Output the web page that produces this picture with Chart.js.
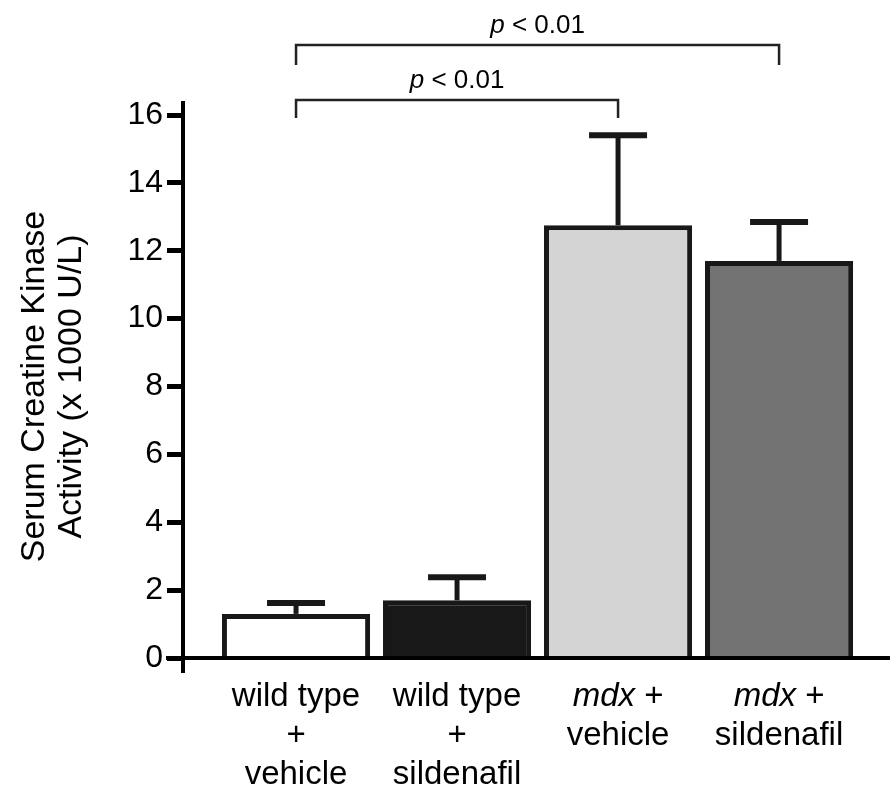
<!DOCTYPE html>
<html>
<head>
<meta charset="utf-8">
<script src="https://cdn.jsdelivr.net/npm/chart.js@4/dist/chart.umd.min.js"></script>
<style>
html, body { margin: 0; padding: 0; background: #fff; }
#wrap { width: 890px; height: 786px; position: relative; }
</style>
</head>
<body>
<div id="wrap"><canvas id="Chart"></canvas></div>
<script>
// data (x 1000 U/L)
const categories = ['wild type + vehicle', 'wild type + sildenafil', 'mdx + vehicle', 'mdx + sildenafil'];
// _text_ marks italic parts of a line
const labelLines = [
    ['wild type', '+', 'vehicle'],
    ['wild type', '+', 'sildenafil'],
    ['_mdx_ +', 'vehicle'],
    ['_mdx_ +', 'sildenafil']
];
const positions = [1, 2, 3, 4];
const means = [1.30, 1.70, 12.75, 11.70];
const errors = [0.32, 0.68, 2.65, 1.15];
const barColors = ['#ffffff', '#181818', '#d4d4d4', '#737373'];
const yTicks = [0, 2, 4, 6, 8, 10, 12, 14, 16];
const yTitle = ['Serum Creatine Kinase', 'Activity (x 1000 U/L)'];
// significance brackets: bar index from/to, level and end drop in data units
const brackets = [
    { from: 0, to: 3, level: 18.06, drop: 17.47, text: '_p_ < 0.01' },
    { from: 0, to: 2, level: 16.44, drop: 15.91, text: '_p_ < 0.01' }
];

const FONT = '"Liberation Sans", Arial, Helvetica, sans-serif';

function drawMixed(ctx, str, cx, y, size) {
    let parts = str.split('_');
    let fonts = parts.map((p, i) => (i % 2 ? 'italic ' : '') + size + 'px ' + FONT);
    let total = 0;
    parts.forEach((p, i) => { ctx.font = fonts[i]; total += ctx.measureText(p).width; });
    let x = cx - total / 2;
    ctx.textAlign = 'left';
    parts.forEach((p, i) => {
        ctx.font = fonts[i];
        ctx.fillText(p, x, y);
        x += ctx.measureText(p).width;
    });
}

const extras = {
    id: 'extras',
    afterDatasetsDraw(chart) {
        const ctx = chart.ctx, xs = chart.scales.x, ys = chart.scales.y;
        ctx.save();
        ctx.strokeStyle = '#181818';
        means.forEach((m, i) => {
            let x = xs.getPixelForValue(positions[i]);
            let top = ys.getPixelForValue(m + errors[i]);
            ctx.lineWidth = 5;
            ctx.beginPath();
            ctx.moveTo(x, ys.getPixelForValue(m));
            ctx.lineTo(x, top);
            ctx.stroke();
            ctx.lineWidth = 6;
            ctx.beginPath();
            ctx.moveTo(x - 29, top);
            ctx.lineTo(x + 29, top);
            ctx.stroke();
        });
        ctx.restore();
    },
    afterDraw(chart) {
        const ctx = chart.ctx, xs = chart.scales.x, ys = chart.scales.y, area = chart.chartArea;
        ctx.save();
        // axis lines running past the corner
        ctx.strokeStyle = '#000';
        ctx.lineWidth = 4;
        ctx.beginPath();
        ctx.moveTo(area.left, area.top - 14);
        ctx.lineTo(area.left, area.bottom + 15);
        ctx.moveTo(area.left - 17, area.bottom);
        ctx.lineTo(area.right, area.bottom);
        ctx.stroke();

        // brackets
        ctx.lineWidth = 2.5;
        ctx.strokeStyle = '#222';
        ctx.fillStyle = '#000';
        ctx.textBaseline = 'alphabetic';
        brackets.forEach(b => {
            let x1 = xs.getPixelForValue(positions[b.from]);
            let x2 = xs.getPixelForValue(positions[b.to]);
            let yl = ys.getPixelForValue(b.level);
            let yd = ys.getPixelForValue(b.drop);
            ctx.beginPath();
            ctx.moveTo(x1, yd);
            ctx.lineTo(x1, yl);
            ctx.lineTo(x2, yl);
            ctx.lineTo(x2, yd);
            ctx.stroke();
            drawMixed(ctx, b.text, (x1 + x2) / 2, yl - 12, 26);
        });

        // category labels
        labelLines.forEach((lines, i) => {
            let cx = xs.getPixelForValue(positions[i]);
            lines.forEach((ln, k) => {
                drawMixed(ctx, ln, cx, area.bottom + 48 + k * 39, 33);
            });
        });
        ctx.restore();
    }
};

let graph = document.getElementById('Chart');

let chartData = {
    type: 'bar',
    data: {
        labels: categories,
        datasets: [{
            data: means.map((m, i) => ({ x: positions[i], y: m })),
            backgroundColor: barColors,
            borderColor: '#181818',
            borderWidth: 5,
            borderSkipped: 'start',
            barPercentage: 1,
            categoryPercentage: 0.92
        }]
    },
    options: {
        responsive: true,
        maintainAspectRatio: false,
        animation: false,
        layout: { padding: { top: 115, left: 0, right: 0, bottom: 0 } },
        plugins: { legend: { display: false }, tooltip: { enabled: false } },
        scales: {
            x: {
                type: 'linear',
                offset: false,
                min: 0.298,
                max: 4.689,
                afterBuildTicks(scale) { scale.ticks = positions.map(v => ({ value: v })); },
                ticks: { display: false },
                grid: { display: false },
                border: { display: false },
                afterFit(scale) { scale.height = 128; }
            },
            y: {
                min: 0,
                max: 16,
                afterBuildTicks(scale) { scale.ticks = yTicks.map(v => ({ value: v })); },
                ticks: {
                    color: '#000',
                    padding: 4,
                    font: { family: FONT, size: 32 }
                },
                grid: {
                    drawOnChartArea: false,
                    drawTicks: true,
                    tickLength: 16,
                    tickWidth: 5,
                    color: '#000'
                },
                border: { display: false },
                title: {
                    display: true,
                    text: yTitle,
                    color: '#000',
                    font: { family: FONT, size: 34, lineHeight: 1.1 },
                    padding: { top: 16, bottom: 0 }
                },
                afterFit(scale) { scale.width = 183; }
            }
        }
    },
    plugins: [extras]
};

let presentdata = new Chart(graph, chartData);
</script>
</body>
</html>
